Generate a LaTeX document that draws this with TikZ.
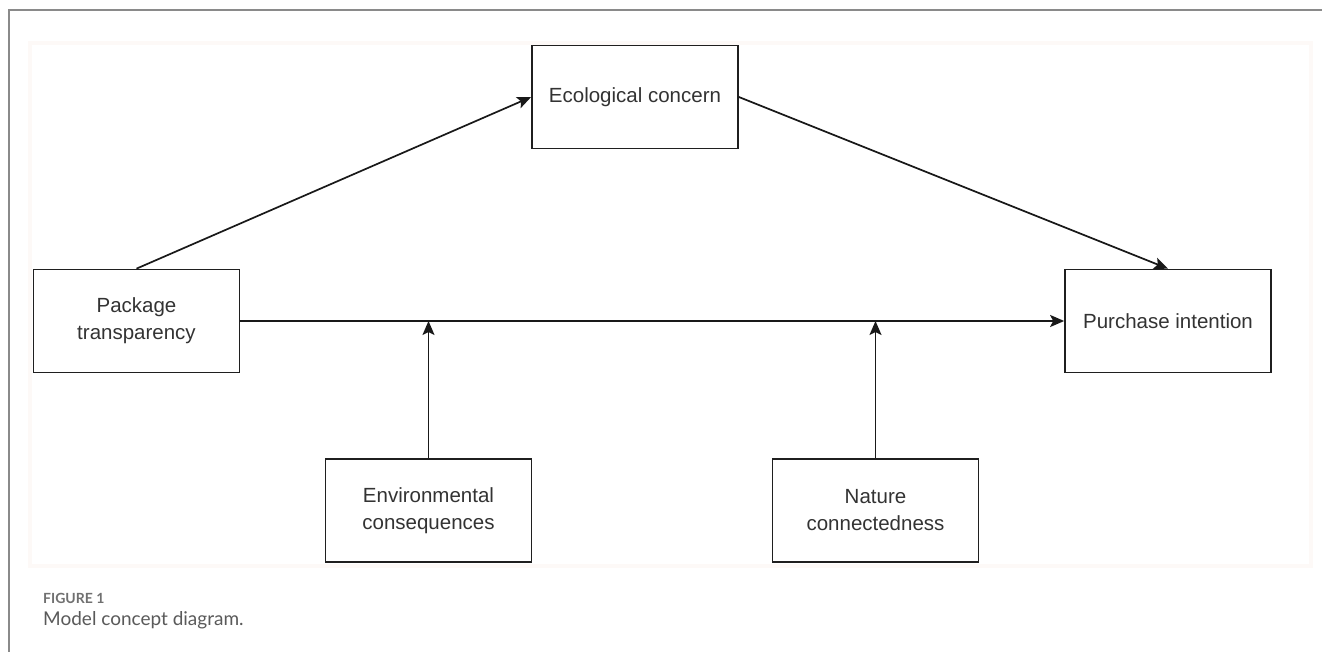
\documentclass[tikz,border=0pt]{standalone}
\usepackage{fontspec}
\setmainfont{Liberation Sans}
\newfontfamily\capfont{Lato}
\usetikzlibrary{arrows.meta}
\definecolor{framegray}{HTML}{8A8A8A}
\definecolor{faint}{HTML}{FDF9F7}
\definecolor{captxt}{HTML}{5A5A5A}
\definecolor{capfig}{HTML}{707070}
\begin{document}
\begin{tikzpicture}[x=1pt,y=-1pt,
  box/.style={draw=black!88, line width=1.7pt, fill=white, align=center,
    minimum width=206pt, minimum height=103pt, inner sep=0pt,
    font=\fontsize{20.5}{27}\selectfont, text=black!80},
  conn/.style={line width=1.7pt, draw=black!90, -{Stealth[length=14pt,width=12pt,inset=3pt]}},
  capnode/.style={anchor=base west, inner sep=0pt}]
\useasboundingbox (0,0) rectangle (1322,652);
\fill[white] (0,0) rectangle (1322,652);
\draw[framegray, line width=1.6pt] (9,652) -- (9,10) -- (1322,10);
\draw[faint, line width=3.5pt, fill=white] (30,43) rectangle (1311,566);
\node[box] (pt) at (136.5,321) {Package\\transparency};
\node[box] (eco) at (635,97) {Ecological concern};
\node[box] (pi) at (1168,321) {Purchase intention};
\node[box] (env) at (428.5,510.5) {Environmental\\consequences};
\node[box] (nat) at (875.5,510.5) {Nature\\connectedness};
\draw[conn] (pt.north) -- (eco.west);
\draw[conn] (eco.east) -- (pi.north);
\draw[conn] (pt.east) -- (pi.west);
\draw[conn] (env.north) -- (env.north |- pt.east);
\draw[conn] (nat.north) -- (nat.north |- pt.east);
\node[capnode, text=capfig, font=\capfont\bfseries\fontsize{14}{16}\selectfont] (fig) at (43,603) {FIGURE 1};
\node[capnode, text=captxt, font=\capfont\fontsize{19}{22}\selectfont] (cap) at (43,625) {Model concept diagram.};
\end{tikzpicture}
\end{document}
